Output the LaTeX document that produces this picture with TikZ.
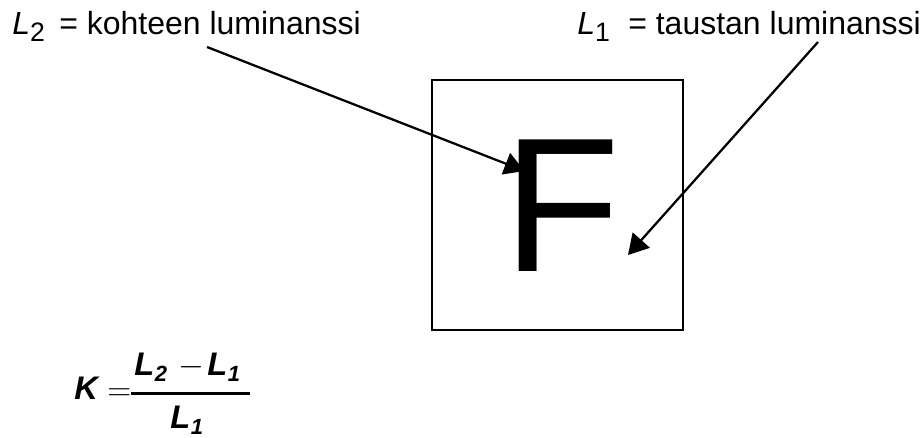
\documentclass[tikz,border=0pt]{standalone}
\usepackage{fontspec}
\setmainfont{Liberation Sans}
\usetikzlibrary{arrows.meta}

\tikzset{
  lbltext/.style={font=\fontsize{24}{28}\selectfont,inner sep=0pt,anchor=base west},
  frmtext/.style={font=\fontsize{24.5}{28}\selectfont\bfseries\itshape,inner sep=0pt,anchor=base west},
  frmsign/.style={font=\fontsize{23}{27}\selectfont,inner sep=0pt,anchor=base west},
  pointer/.style={line width=1.7pt,-{Triangle[length=15pt,width=17pt]}},
}
\newcommand{\frmsub}[1]{\kern0.5pt\raisebox{-4pt}{\fontsize{16.5}{16.5}\selectfont #1}}

\begin{document}
\begin{tikzpicture}[x=0.75pt,y=-0.75pt,line join=miter]

  % ---- reference values (pixels, y down) ----
  \def\boxL{432}
  \def\boxR{683}
  \def\boxT{80}
  \def\boxB{330}
  \def\lblY{35}       % baseline of the two labels
  \def\subDrop{5.25pt}
  \def\numY{376}      % numerator baseline
  \def\denY{429}      % denominator baseline

  \useasboundingbox (0,0) rectangle (922,438);

  % ---- labels ----
  \node[lbltext] (Ltwo) at (12,\lblY) {\textit{L}\raisebox{-\subDrop}{\fontsize{20}{20}\selectfont 2}};
  \node[lbltext] (kohde) at (59,\lblY) {= kohteen luminanssi};
  \node[lbltext] (Lone) at (577,\lblY) {\textit{L}\raisebox{-\subDrop}{\fontsize{20}{20}\selectfont 1}};
  \node[lbltext] (tausta) at (628,\lblY) {= taustan luminanssi};

  % ---- square with the letter ----
  \draw[line width=1.6pt] (\boxL,\boxT) rectangle (\boxR,\boxB);
  \node[font=\fontsize{143.5}{150}\selectfont,inner sep=0pt,anchor=base west] (letterF) at (503,272) {F};

  % ---- pointers ----
  \coordinate (srcTwo) at (207,47);
  \coordinate (tgtTwo) at (524.5,171);
  \coordinate (srcOne) at (818,42);
  \coordinate (tgtOne) at (628,255);
  \draw[pointer] (srcTwo) -- (tgtTwo);
  \draw[pointer] (srcOne) -- (tgtOne);

  % ---- contrast formula ----
  \node[frmtext] (symK) at (74,400) {K};
  \node[frmsign] (eqSign) at (107,401) {$=$};
  \node[frmtext] (numTwo) at (134,\numY) {L\frmsub{2}};
  \node[frmsign] (minusSign) at (178,\numY) {$-$};
  \node[frmtext] (numOne) at (207,\numY) {L\frmsub{1}};
  \node[frmtext] (denOne) at (170,\denY) {L\frmsub{1}};
  \draw[line width=2.25pt] (131,393.5) -- (250,393.5);

\end{tikzpicture}
\end{document}
